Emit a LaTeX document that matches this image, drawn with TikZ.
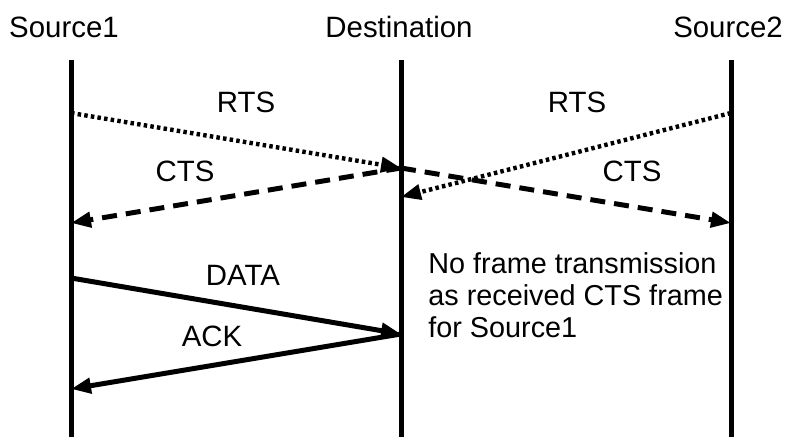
\documentclass[tikz,border=0pt]{standalone}
\usepackage{fontspec}
\setmainfont{Liberation Sans}
\usetikzlibrary{arrows.meta}
\begin{document}
\begin{tikzpicture}[x=0.5pt,y=-0.5pt,
  lifeline/.style={line width=2.5pt},
  msg/.style={line width=2.5pt,-{Triangle[length=10pt,width=7.5pt]}},
  rtsline/.style={msg,line width=2.2pt,dash pattern=on 1.75pt off 1.6pt},
  ctsline/.style={msg,dash pattern=on 7.5pt off 4.5pt},
  lbl/.style={font=\fontsize{14.7}{16}\selectfont,inner sep=0pt},
  notelbl/.style={font=\fontsize{14.4}{16}\selectfont,inner sep=0pt,align=left}]
\useasboundingbox (0,0) rectangle (787,437);

% station names
\node[lbl] (n1) at (64,27) {Source1};
\node[lbl] (n2) at (399,27) {Destination};
\node[lbl] (n3) at (728,27) {Source2};

% lifelines
\coordinate (t1) at (71,60);  \coordinate (b1) at (71,437);
\coordinate (t2) at (401,60); \coordinate (b2) at (401,437);
\coordinate (t3) at (731,60); \coordinate (b3) at (731,437);
\draw[lifeline] (t1) -- (b1);
\draw[lifeline] (t2) -- (b2);
\draw[lifeline] (t3) -- (b3);

% message end points
\coordinate (s1rts) at (71,113);
\coordinate (s2rts) at (731,113);
\coordinate (drts1) at (401,168);
\coordinate (drts2) at (401,197);
\coordinate (dcts) at (401,168);
\coordinate (s1cts) at (71,223);
\coordinate (s2cts) at (731,223);
\coordinate (s1data) at (71,278);
\coordinate (ddata) at (401,334);
\coordinate (s1ack) at (71,389);

% RTS / CTS exchange
\draw[rtsline] (s1rts) -- (drts1);
\draw[rtsline] (s2rts) -- (drts2);
\draw[ctsline] (dcts) -- (s1cts);
\draw[ctsline] (dcts) -- (s2cts);

% DATA / ACK exchange
\draw[msg] (s1data) -- (ddata);
\draw[msg] (ddata) -- (s1ack);

% message labels
\node[lbl] (l1) at (246,102) {RTS};
\node[lbl] (l2) at (577,102) {RTS};
\node[lbl] (l3) at (185,171) {CTS};
\node[lbl] (l4) at (632,171) {CTS};
\node[lbl] (l5) at (243,275) {DATA};
\node[lbl] (l6) at (212,336) {ACK};

\node[notelbl,anchor=north west] (note) at (428,252)
  {No frame transmission\\as received CTS frame\\for Source1};
\end{tikzpicture}
\end{document}
